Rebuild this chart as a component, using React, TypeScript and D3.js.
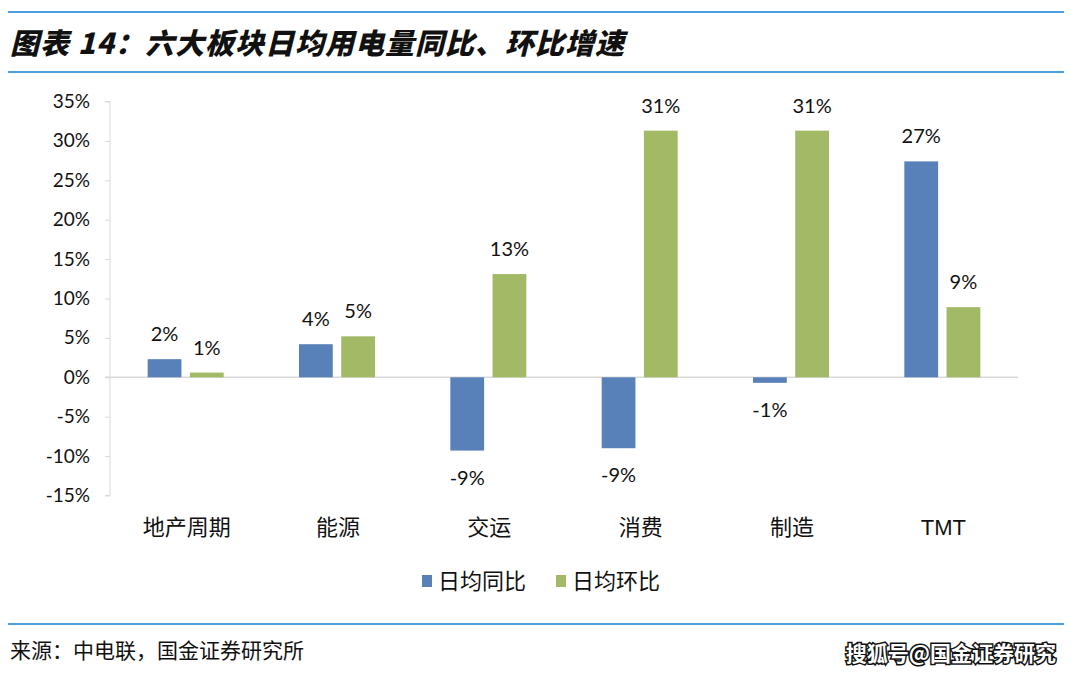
import React, { useEffect, useRef } from "react";
import * as d3 from "d3";

// 六大板块日均用电量同比、环比增速
const categories = ["地产周期", "能源", "交运", "消费", "制造", "TMT"];
const yoy = [0.023, 0.042, -0.093, -0.09, -0.007, 0.274];
const mom = [0.006, 0.052, 0.131, 0.313, 0.313, 0.089];
const seriesNames = ["日均同比", "日均环比"];
const yTicks = [-0.15, -0.1, -0.05, 0, 0.05, 0.1, 0.15, 0.2, 0.25, 0.3, 0.35];

const W = 1080;
const H = 677;
const BLUE = "#5881ba";
const GREEN = "#a2b966";
const LINE = "#4a9fe2";
const CJK = "'Noto Sans CJK SC', sans-serif";
const NUM = "Lato, 'Open Sans', sans-serif";

export default function App() {
  const ref = useRef<SVGSVGElement>(null);

  useEffect(() => {
    const svg = d3.select(ref.current);
    svg.selectAll("*").remove();

    // Scales
    const x0 = d3.scaleBand<string>().domain(categories).range([110, 1018]);
    const bw = x0.bandwidth();
    const x1 = d3
      .scaleBand<string>()
      .domain(seriesNames)
      .range([bw / 2 - 38, bw / 2 + 38])
      .paddingInner(0.2);
    const y = d3.scaleLinear().domain([-0.15, 0.35]).range([495.5, 101.5]);

    // Header / footer rules
    [12, 72, 624].forEach((ly) => {
      svg
        .append("line")
        .attr("x1", 8)
        .attr("x2", 1064)
        .attr("y1", ly)
        .attr("y2", ly)
        .attr("stroke", LINE)
        .attr("stroke-width", 2);
    });

    // Title
    svg
      .append("text")
      .attr("x", 10)
      .attr("y", 54)
      .style("font-family", CJK)
      .style("font-size", "29px")
      .style("font-weight", "900")
      .style("font-style", "italic")
      .style("letter-spacing", "1px")
      .attr("fill", "#111")
      .text("图表 14：六大板块日均用电量同比、环比增速");

    // y axis
    const yAxis = d3
      .axisLeft(y)
      .tickValues(yTicks)
      .tickSize(5)
      .tickFormat((d) => `${Math.round(+d * 100)}%`);
    const gy = svg.append("g").attr("transform", "translate(110,0)").call(yAxis);
    gy.select(".domain").attr("stroke", "#d9d9d9").attr("d", "M-5,101.5H0V495.5H-5");
    gy.selectAll(".tick line").attr("stroke", "#d9d9d9");
    gy.selectAll(".tick text")
      .attr("x", -20)
      .attr("fill", "#111")
      .style("font-family", NUM)
      .style("font-size", "19px");

    // zero line
    svg
      .append("line")
      .attr("x1", 105)
      .attr("x2", 1018)
      .attr("y1", y(0))
      .attr("y2", y(0))
      .attr("stroke", "#d9d9d9")
      .attr("stroke-width", 1.5);

    // Bars
    const rows = categories.map((c, i) => ({ c, vals: [yoy[i], mom[i]] }));
    const colors = [BLUE, GREEN];
    const g = svg
      .selectAll(".grp")
      .data(rows)
      .enter()
      .append("g")
      .attr("transform", (d) => `translate(${x0(d.c)},0)`);

    g.selectAll("rect")
      .data((d) => d.vals.map((v, k) => ({ v, k })))
      .enter()
      .append("rect")
      .attr("x", (d) => x1(seriesNames[d.k])!)
      .attr("width", x1.bandwidth())
      .attr("y", (d) => y(Math.max(0, d.v)))
      .attr("height", (d) => Math.abs(y(d.v) - y(0)))
      .attr("fill", (d) => colors[d.k]);

    // Data labels
    g.selectAll("text.lbl")
      .data((d) => d.vals.map((v, k) => ({ v, k })))
      .enter()
      .append("text")
      .attr("class", "lbl")
      .attr("x", (d) => x1(seriesNames[d.k])! + x1.bandwidth() / 2)
      .attr("y", (d) => (d.v >= 0 ? y(d.v) - 18 : y(d.v) + 34))
      .attr("text-anchor", "middle")
      .attr("fill", "#111")
      .style("font-family", NUM)
      .style("font-size", "20px")
      .text((d) => `${Math.round(d.v * 100)}%`);

    // Category labels
    svg
      .selectAll("text.cat")
      .data(categories)
      .enter()
      .append("text")
      .attr("class", "cat")
      .attr("x", (d) => x0(d)! + bw / 2 + 1)
      .attr("y", 535)
      .attr("text-anchor", "middle")
      .attr("fill", "#111")
      .style("font-family", (d) => (d === "TMT" ? "'Liberation Sans', Arial, sans-serif" : CJK))
      .style("font-size", "22px")
      .text((d) => d);

    // Legend
    const legendX = [422, 556];
    seriesNames.forEach((name, k) => {
      svg
        .append("rect")
        .attr("x", legendX[k])
        .attr("y", 575)
        .attr("width", 10)
        .attr("height", 12)
        .attr("fill", colors[k]);
      svg
        .append("text")
        .attr("x", legendX[k] + 16)
        .attr("y", 589)
        .attr("fill", "#111")
        .style("font-family", CJK)
        .style("font-size", "22px")
        .text(name);
    });

    // Footer
    svg
      .append("text")
      .attr("x", 10)
      .attr("y", 658)
      .attr("fill", "#111")
      .style("font-family", CJK)
      .style("font-size", "21px")
      .text("来源：中电联，国金证券研究所");

    svg
      .append("text")
      .attr("x", 1056)
      .attr("y", 661)
      .attr("text-anchor", "end")
      .attr("fill", "#fff")
      .attr("stroke", "#111")
      .attr("stroke-width", 3)
      .attr("paint-order", "stroke")
      .style("font-family", CJK)
      .style("font-size", "21px")
      .style("font-weight", "700")
      .text("搜狐号@国金证券研究");
  }, []);

  return (
    <svg
      ref={ref}
      width={W}
      height={H}
      style={{ position: "absolute", left: 0, top: 0, background: "#fff" }}
    />
  );
}
